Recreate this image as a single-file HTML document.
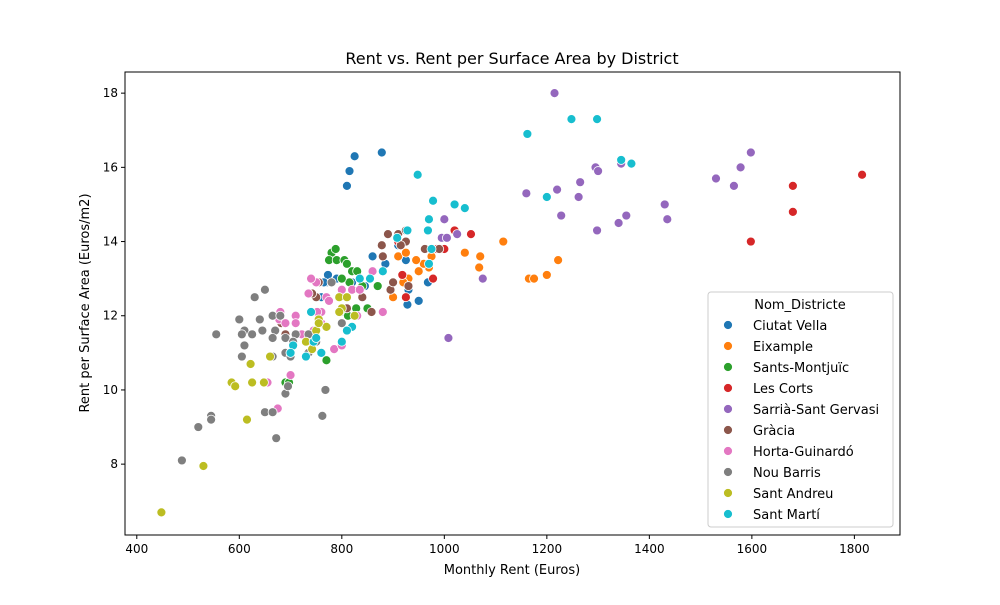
<!DOCTYPE html>
<html><head><meta charset="utf-8"><style>
html,body{margin:0;padding:0;background:#fff;}
svg text{font-family:"DejaVu Sans","Liberation Sans",sans-serif;fill:#000;}
</style></head><body>
<svg id="chart" width="1000" height="600" viewBox="0 0 1000 600">
<rect width="1000" height="600" fill="#fff"/>
<text x="512" y="64" font-size="16" text-anchor="middle">Rent vs. Rent per Surface Area by District</text>
<g id="axes"></g>
<g id="points"></g>
<rect x="125" y="72" width="775" height="463" fill="none" stroke="#000" stroke-width="1"/>
<text x="512" y="574" font-size="13" text-anchor="middle">Monthly Rent (Euros)</text>
<text transform="translate(89,303) rotate(-90)" font-size="13" text-anchor="middle">Rent per Surface Area (Euros/m2)</text>
<g id="legend">
<rect x="708" y="292" width="185" height="235" rx="3" fill="#fff" stroke="#ccc" stroke-width="1"/>
<text x="800" y="309" font-size="13" text-anchor="middle">Nom_Districte</text>
</g>
</svg>
<script>
const districts=["Ciutat Vella","Eixample","Sants-Montjuïc","Les Corts","Sarrià-Sant Gervasi","Gràcia","Horta-Guinardó","Nou Barris","Sant Andreu","Sant Martí"];
const colors=["#1f77b4","#ff7f0e","#2ca02c","#d62728","#9467bd","#8c564b","#e377c2","#7f7f7f","#bcbd22","#17becf"];
const xTicks=[400,600,800,1000,1200,1400,1600,1800];
const yTicks=[8,10,12,14,16,18];
const ciutatVella=[[810,15.5],[815,15.9],[825,16.3],[878,16.4],[770,12.9],[773,13.1],[860,13.6],[885,13.4],[925,13.5],[928,12.3],[950,12.4],[930,12.7],[968,12.9],[910,13.9],[790,13.0],[820,12.9],[765,12.9],[760,12.5],[845,12.8]];
const eixample=[[1115,14.0],[1040,13.7],[1070,13.6],[1068,13.3],[1165,13.0],[1175,13.0],[1200,13.1],[1222,13.5],[990,13.8],[970,13.3],[960,13.4],[975,13.6],[950,13.2],[930,13.0],[900,12.5],[920,12.9],[910,13.6],[945,13.5],[925,13.7]];
const santsMontjuic=[[780,13.7],[788,13.8],[775,13.5],[790,13.5],[805,13.5],[810,13.4],[820,13.2],[830,13.2],[835,13.0],[815,12.9],[800,13.0],[840,12.8],[870,12.8],[805,12.1],[812,12.0],[828,12.2],[770,10.8],[690,10.2],[697,10.2],[850,12.2]];
const lesCorts=[[1815,15.8],[1680,15.5],[1680,14.8],[1598,14.0],[1052,14.2],[1020,14.3],[1000,13.8],[985,13.8],[978,13.0],[918,13.1],[925,12.5],[880,13.6],[910,14.0]];
const sarria=[[1215,18.0],[1598,16.4],[1578,16.0],[1565,15.5],[1530,15.7],[1345,16.1],[1295,16.0],[1300,15.9],[1265,15.6],[1220,15.4],[1160,15.3],[1262,15.2],[1228,14.7],[1355,14.7],[1340,14.5],[1298,14.3],[1430,15.0],[1435,14.6],[1000,14.6],[995,14.1],[1005,14.1],[1025,14.2],[1075,13.0],[1008,11.4]];
const gracia=[[890,14.2],[910,14.2],[925,14.3],[925,14.0],[915,13.9],[878,13.9],[880,13.6],[962,13.8],[930,12.8],[895,12.7],[858,12.1],[750,12.5],[755,12.9],[742,12.6],[810,12.2],[682,11.8],[690,11.5],[840,12.5],[900,12.9],[990,13.8]];
const horta=[[860,13.2],[770,12.5],[750,12.9],[735,12.6],[740,13.0],[775,12.4],[800,12.7],[820,12.7],[835,12.7],[760,12.1],[752,12.1],[710,12.0],[680,12.1],[678,11.9],[690,11.8],[710,11.8],[745,11.6],[760,11.8],[880,12.1],[785,11.1],[735,11.3],[700,10.4],[655,10.2],[675,9.5],[722,11.5],[800,11.2],[830,12.0]];
const nouBarris=[[650,12.7],[630,12.5],[665,12.0],[680,12.0],[640,11.9],[600,11.9],[610,11.6],[555,11.5],[605,11.5],[625,11.5],[645,11.6],[670,11.6],[665,11.4],[710,11.5],[690,11.4],[735,11.5],[705,11.3],[610,11.2],[605,10.9],[665,10.9],[690,11.0],[700,10.9],[545,9.3],[545,9.2],[520,9.0],[650,9.4],[665,9.4],[690,9.9],[695,10.1],[488,8.1],[672,8.7],[762,9.3],[768,10.0],[750,11.3],[800,11.8],[735,11.0],[780,12.9]];
const santAndreu=[[448,6.7],[530,7.95],[585,10.2],[592,10.1],[625,10.2],[648,10.2],[622,10.7],[615,9.2],[660,10.9],[700,11.0],[750,11.6],[755,11.9],[770,11.7],[755,11.8],[795,12.5],[800,12.2],[810,12.5],[795,12.1],[825,12.0],[742,11.1],[730,11.3]];
const santMarti=[[1162,16.9],[1248,17.3],[1298,17.3],[1345,16.2],[1365,16.1],[948,15.8],[978,15.1],[1020,15.0],[1040,14.9],[1200,15.2],[970,14.6],[968,14.3],[928,14.3],[908,14.1],[975,13.8],[880,13.2],[855,13.0],[835,13.0],[820,11.7],[760,11.0],[730,10.9],[745,11.3],[750,11.4],[705,11.2],[700,11.0],[740,12.1],[810,11.6],[800,11.3],[970,13.4]];
const series=[ciutatVella,eixample,santsMontjuic,lesCorts,sarria,gracia,horta,nouBarris,santAndreu,santMarti];

const NS="http://www.w3.org/2000/svg";
const X0=125,X1=900,Y0=72,Y1=535;
const xMin=377,xMax=1889,yMin=6.09,yMax=18.57;
function sx(v){return X0+(v-xMin)/(xMax-xMin)*(X1-X0);}
function sy(v){return Y1-(v-yMin)/(yMax-yMin)*(Y1-Y0);}
function mk(t,a){const e=document.createElementNS(NS,t);for(const k in a)e.setAttribute(k,a[k]);return e;}
const axes=document.getElementById('axes');
xTicks.forEach(t=>{
  const x=sx(t);
  const l=mk('line',{x1:x,x2:x,y1:Y1,y2:Y1+4,stroke:'#000'});
  
  
  axes.appendChild(l);
  const tx=mk('text',{x:x,y:Y1+18,'font-size':12,'text-anchor':'middle'});
  tx.textContent=t;
  
  
  axes.appendChild(tx);
});
yTicks.forEach(t=>{
  const y=sy(t);
  const l=mk('line',{x1:X0-4,x2:X0,y1:y,y2:y,stroke:'#000'});
  
  
  axes.appendChild(l);
  const tx=mk('text',{x:X0-7,y:y+4,'font-size':12,'text-anchor':'end'});
  tx.textContent=t;
  
  
  axes.appendChild(tx);
});
const pts=document.getElementById('points');
series.forEach((s,i)=>{
  s.forEach(p=>{
    const c=mk('circle',{cx:sx(p[0]),cy:sy(p[1]),r:4.5,fill:colors[i],stroke:'#fff','stroke-width':0.8});
    
    
    pts.appendChild(c);
  });
});
const lg=document.getElementById('legend');
districts.forEach((d,i)=>{
  const y=325+i*21;
  const c=mk('circle',{cx:728,cy:y,r:4.5,fill:colors[i],stroke:'#fff','stroke-width':0.8});
  
  
  lg.appendChild(c);
  const t=mk('text',{x:753,y:y+5,'font-size':13});
  t.textContent=d;
  
  
  lg.appendChild(t);
});
</script>
</body></html>
